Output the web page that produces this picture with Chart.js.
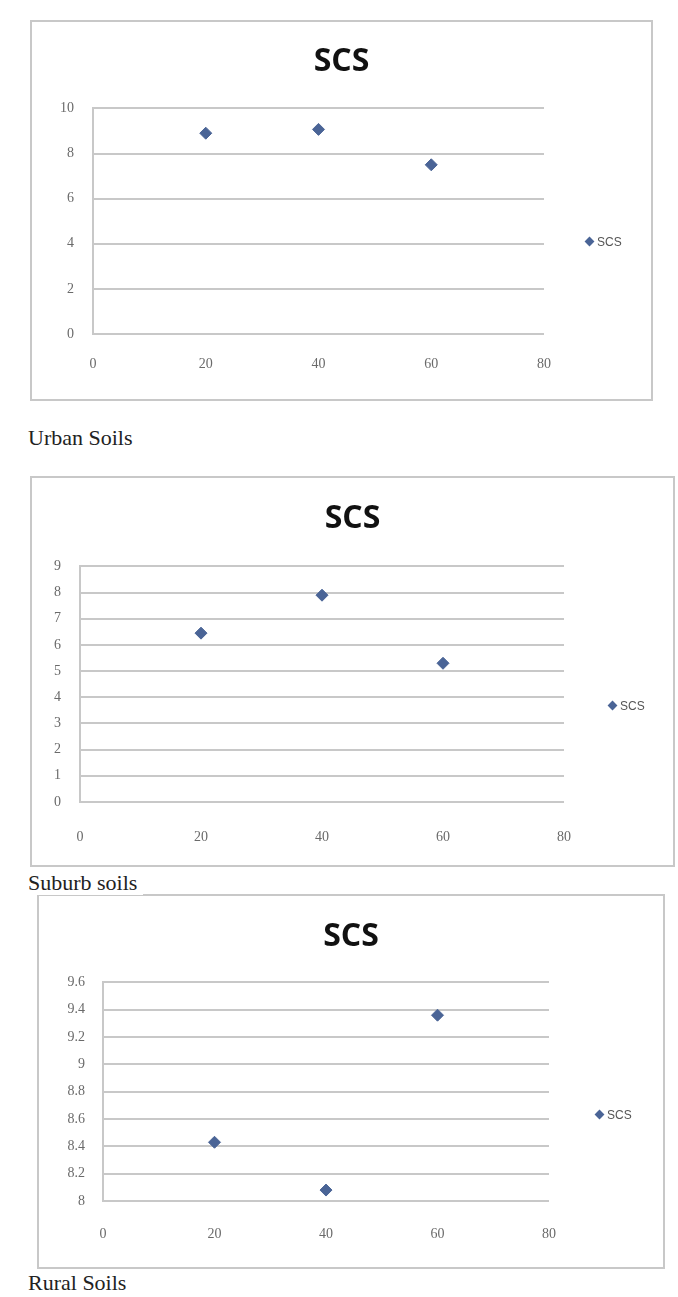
<!DOCTYPE html>
<html>
<head>
<meta charset="utf-8">
<script src="https://cdn.jsdelivr.net/npm/chart.js@4/dist/chart.umd.min.js"></script>
<style>
  body { margin: 0; background: #fff; width: 678px; height: 1297px; position: relative; overflow: hidden; }
  .box { position: absolute; border: 2px solid #c8c8c8; background: #fff; box-sizing: border-box; }
  .box canvas { position: absolute; left: 0; top: 0; }
  .legend { position: absolute; font-family: "Liberation Sans", Arial, sans-serif; font-size: 12px; color: #555; }
  .legend i { display: inline-block; width: 7px; height: 7px; background: #4a6496; transform: rotate(45deg); margin-right: 4px; vertical-align: 1px; }
  .cap { position: absolute; left: 28px; font-family: "Liberation Serif", "Times New Roman", serif; font-size: 22px; line-height: 25px; color: #222; background: #fff; padding-right: 6px; }
</style>
</head>
<body>
<div class="box" id="b1" style="left:30px;top:20px;width:623px;height:381px;"><canvas id="c1"></canvas></div>
<div class="legend" style="left:586px;top:235px;"><i></i>SCS</div>
<div class="cap" style="top:425px;">Urban Soils</div>

<div class="box" id="b2" style="left:30px;top:476px;width:645px;height:391px;"><canvas id="c2"></canvas></div>
<div class="legend" style="left:609px;top:699px;"><i></i>SCS</div>

<div class="box" id="b3" style="left:37px;top:894px;width:628px;height:375px;"><canvas id="c3"></canvas></div>
<div class="legend" style="left:596px;top:1108px;"><i></i>SCS</div>
<div class="cap" style="top:870px;">Suburb soils</div>
<div class="cap" style="top:1270px;">Rural Soils</div>

<script>
// data
const xTicks = [0, 20, 40, 60, 80];
const depths = [20, 40, 60];
const urbanScs = [8.9, 9.07, 7.5];
const suburbScs = [6.45, 7.9, 5.3];
const ruralScs = [8.43, 8.08, 9.36];

const markerColor = '#4a6496';
const tickFont = { family: 'Liberation Serif, serif', size: 14 };

function makeChart(id, values, yMin, yMax, yStep, L, w, h) {
  const canvas = document.getElementById(id);
  canvas.width = w; canvas.height = h;
  canvas.style.width = w + 'px'; canvas.style.height = h + 'px';
  return new Chart(canvas.getContext('2d'), {
    type: 'scatter',
    data: {
      datasets: [{
        label: 'SCS',
        data: depths.map((d, i) => ({ x: d, y: values[i] })),
        pointStyle: 'rectRot',
        pointRadius: 6,
        backgroundColor: markerColor,
        borderColor: markerColor
      }]
    },
    options: {
      responsive: false,
      animation: false,
      layout: { padding: { left: 0, right: 0, top: 0, bottom: L.bottom } },
      plugins: {
        legend: { display: false },
        tooltip: { enabled: false },
        title: {
          display: true,
          text: 'SCS',
          color: '#111',
          font: { family: 'Open Sans, Liberation Sans, sans-serif', size: 32, weight: 'bold' },
          padding: { top: L.titleTop, bottom: L.titleBottom }
        }
      },
      scales: {
        x: {
          type: 'linear', min: 0, max: 80,
          afterBuildTicks: s => { s.ticks = xTicks.map(v => ({ value: v })); },
          afterFit: s => { s.height = 40; },
          grid: { display: false, drawTicks: false },
          border: { display: false },
          ticks: { color: '#6a6a6a', padding: L.xPad, font: tickFont }
        },
        y: {
          min: yMin, max: yMax,
          ticks: {
            stepSize: yStep, color: '#6a6a6a', padding: L.yPad, font: tickFont,
            callback: v => String(+v.toFixed(1))
          },
          afterFit: s => { s.width = L.left; },
          grid: { color: '#c8c8c8', lineWidth: 2, drawTicks: false },
          border: { display: true, color: '#c8c8c8', width: 2 }
        },
        // empty space on the right where the legend sits
        spacer: {
          type: 'linear', position: 'right', display: true,
          grid: { display: false, drawTicks: false },
          border: { display: false },
          ticks: { display: false },
          afterFit: s => { s.width = L.right; }
        }
      }
    }
  });
}

makeChart('c1', urbanScs, 0, 10, 2,
  { left: 61, right: 107, bottom: 25, titleTop: 21, titleBottom: 27, xPad: 22, yPad: 19 }, 619, 377);
makeChart('c2', suburbScs, 0, 9, 1,
  { left: 48, right: 109, bottom: 23, titleTop: 22, titleBottom: 28, xPad: 27, yPad: 19 }, 641, 387);
makeChart('c3', ruralScs, 8, 9.6, 0.2,
  { left: 64, right: 114, bottom: 26, titleTop: 22, titleBottom: 26, xPad: 25, yPad: 18 }, 624, 371);
</script>
</body>
</html>
